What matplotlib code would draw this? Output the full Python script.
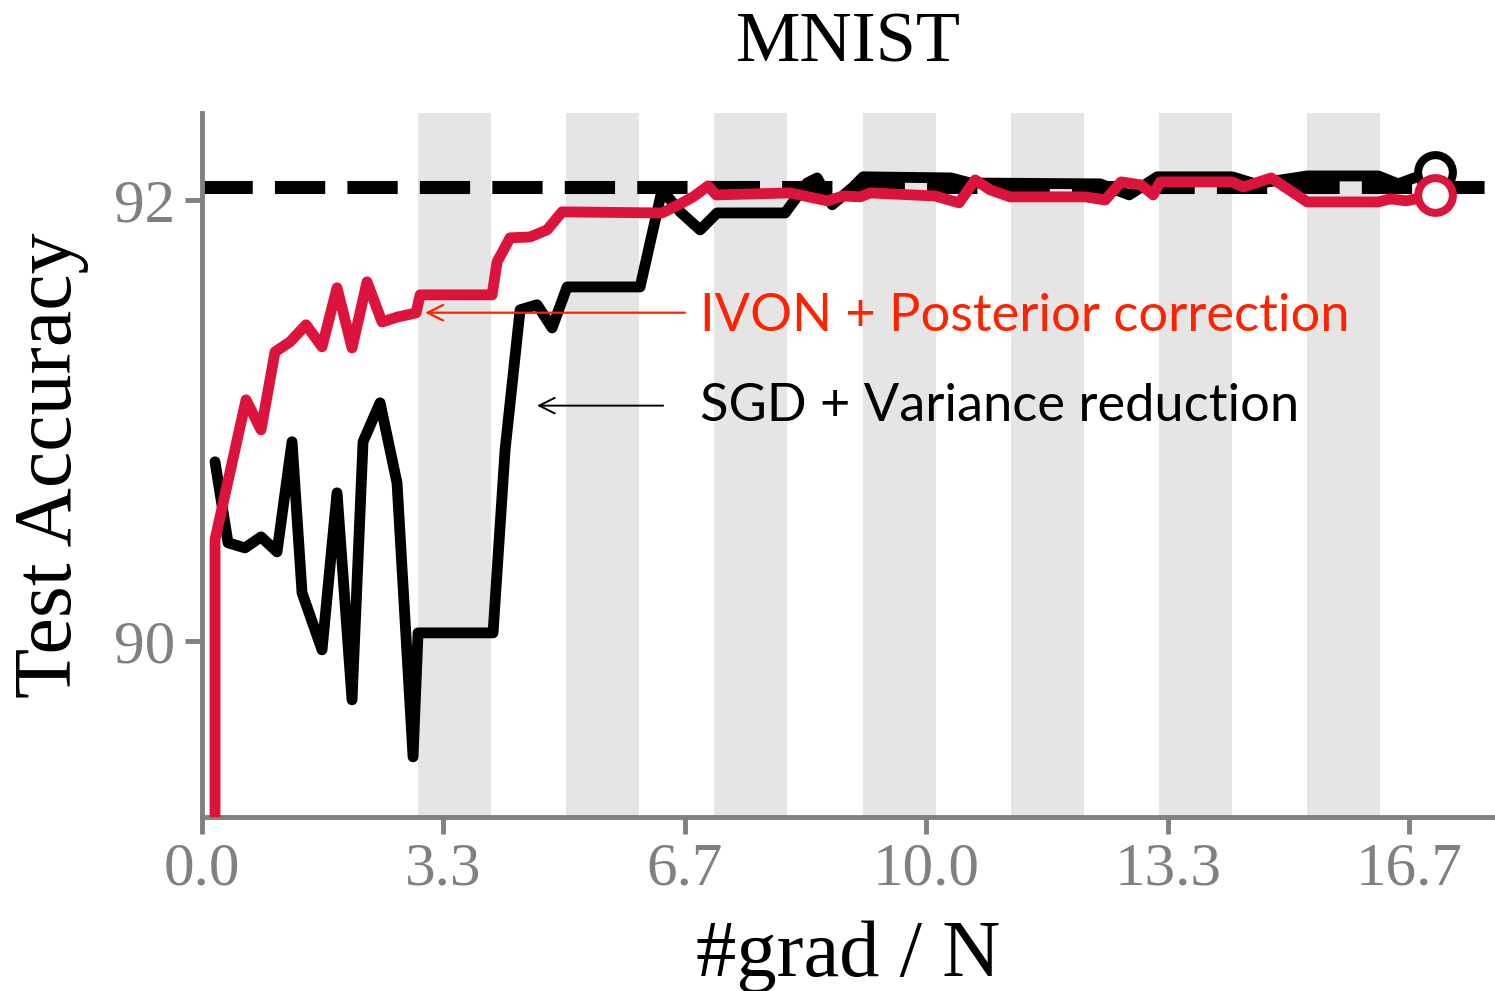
import numpy as np
import matplotlib
matplotlib.use("Agg")
import matplotlib.pyplot as plt

# values
ivon_x = [0.186, 0.186, 0.614, 0.821, 1.014, 1.222, 1.442, 1.663, 1.870, 2.077,
          2.284, 2.491, 2.712, 2.961, 3.016, 4.010, 4.079, 4.258, 4.534, 4.769,
          4.976, 6.356, 6.605, 6.784, 6.991, 7.101, 8.123, 8.634, 8.854, 9.089,
          9.227, 10.124, 10.455, 10.676, 10.883, 11.159, 12.194, 12.471, 12.691,
          12.967, 13.133, 13.230, 14.224, 14.375, 14.762, 15.259, 16.239, 16.404,
          16.625, 17.025]
ivon_acc = [89.00, 90.459, 91.094, 90.958, 91.312, 91.358, 91.435, 91.335, 91.603,
            91.330, 91.630, 91.448, 91.471, 91.489, 91.571, 91.571, 91.721, 91.830,
            91.834, 91.866, 91.948, 91.943, 91.984, 92.016, 92.066, 92.025, 92.034,
            91.998, 92.020, 92.016, 92.034, 92.020, 91.989, 92.093, 92.048, 92.016,
            92.016, 92.002, 92.084, 92.070, 92.025, 92.084, 92.084, 92.061, 92.102,
            91.993, 91.993, 92.007, 91.998, 92.025]

sgd_x = [0.186, 0.366, 0.600, 0.821, 1.042, 1.249, 1.387, 1.663, 1.870, 2.077,
         2.229, 2.464, 2.698, 2.919, 2.988, 4.023, 4.189, 4.396, 4.631, 4.838,
         5.045, 6.052, 6.356, 6.605, 6.881, 7.115, 8.054, 8.357, 8.495, 8.703,
         8.992, 9.130, 10.345, 10.607, 12.402, 12.802, 13.188, 14.224, 14.541,
         15.259, 16.239, 16.515, 16.735, 17.025]
sgd_acc = [90.813, 90.445, 90.422, 90.472, 90.404, 90.904, 90.218, 89.959, 90.672,
           89.732, 90.904, 91.081, 90.717, 89.473, 90.036, 90.036, 90.867, 91.503,
           91.526, 91.421, 91.607, 91.607, 92.048, 91.948, 91.866, 91.943, 91.943,
           92.079, 92.102, 91.980, 92.061, 92.107, 92.102, 92.079, 92.075, 92.025,
           92.107, 92.107, 92.075, 92.111, 92.111, 92.075, 92.102, 92.129]

band_starts = [2.988, 5.031, 7.074, 9.130, 11.173, 13.216, 15.259]
band_width = 1.0
ref_acc = 92.06

xtick_pos = [0.0, 10 / 3, 20 / 3, 10.0, 40 / 3, 50 / 3]
xtick_labels = ["0.0", "3.3", "6.7", "10.0", "13.3", "16.7"]
ytick_pos = [90, 92]

GREY = "#808080"
CRIMSON = "#dc143c"
ORANGE_RED = "#ff2200"
SERIF = "Liberation Serif"
SANS = "Lato"

fig = plt.figure(figsize=(14.95, 9.91), dpi=100)
ax = fig.add_axes([0.1348, 0.1756, 0.8652, 0.7104])

for start in band_starts:
    ax.axvspan(start, start + band_width, color="#e5e5e5", lw=0, zorder=0)

ax.axhline(ref_acc, color="black", lw=9.4, dashes=(3.85, 1.7), zorder=1)

ax.plot(sgd_x, sgd_acc, color="black", lw=7.8, solid_capstyle="round",
        solid_joinstyle="round", zorder=3)
ax.plot(sgd_x[-1], sgd_acc[-1], "o", ms=25, mfc="white", mec="black", mew=5.8,
        zorder=4)
ax.plot(ivon_x, ivon_acc, color=CRIMSON, lw=7.8, solid_capstyle="round",
        solid_joinstyle="round", zorder=5)
ax.plot(ivon_x[-1], ivon_acc[-1], "o", ms=25, mfc="white", mec=CRIMSON, mew=5.8,
        zorder=6)

ax.annotate("", xy=(3.085, 91.49), xytext=(6.67, 91.49),
            arrowprops=dict(arrowstyle="->", color=ORANGE_RED, lw=1.6,
                            mutation_scale=28, shrinkA=0, shrinkB=0))
ax.text(6.88, 91.473, "IVON + Posterior correction", color=ORANGE_RED,
        family=SANS, fontsize=37.7, va="center", ha="left")
ax.annotate("", xy=(4.63, 91.068), xytext=(6.37, 91.068),
            arrowprops=dict(arrowstyle="->", color="black", lw=1.4,
                            mutation_scale=28, shrinkA=0, shrinkB=0))
ax.text(6.88, 91.064, "SGD + Variance reduction", color="black",
        family=SANS, fontsize=37.7, va="center", ha="left")

ax.set_xlim(0, 17.85)
ax.set_ylim(89.2, 92.397)
ax.set_xticks(xtick_pos)
ax.set_xticklabels(xtick_labels)
ax.set_yticks(ytick_pos)
ax.set_yticklabels([str(v) for v in ytick_pos])

for side in ["top", "right"]:
    ax.spines[side].set_visible(False)
for side in ["left", "bottom"]:
    ax.spines[side].set_color(GREY)
    ax.spines[side].set_linewidth(3.5)

ax.tick_params(axis="both", colors=GREY, width=3.5, length=12, labelsize=44)
ax.tick_params(axis="x", pad=6)
ax.tick_params(axis="y", pad=7)
for lab in ax.get_xticklabels() + ax.get_yticklabels():
    lab.set_family(SERIF)
    lab.set_color(GREY)

ax.set_title("MNIST", family=SERIF, fontsize=52, pad=37)
ax.set_xlabel("#grad / N", family=SERIF, fontsize=58)
ax.set_ylabel("Test Accuracy", family=SERIF, fontsize=59)
ax.xaxis.set_label_coords(0.5, -0.146)
ax.yaxis.set_label_coords(-0.087, 0.5)

fig.savefig("out.png", dpi=100)
